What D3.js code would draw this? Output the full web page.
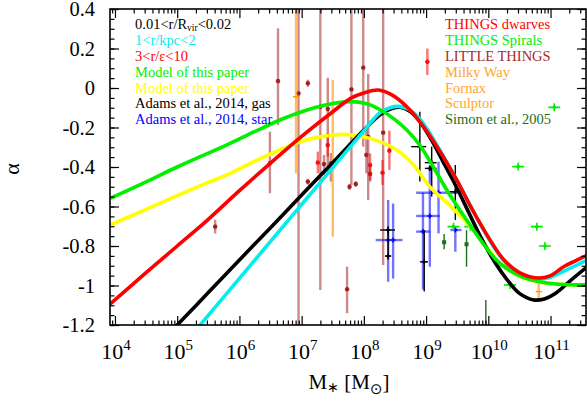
<!DOCTYPE html>
<html><head><meta charset="utf-8">
<script src="https://cdn.jsdelivr.net/npm/d3@7"></script>
<style>
body{margin:0;background:#fff}
svg{display:block}
text{font-family:"Liberation Serif","Times New Roman",serif}
</style>
</head><body>
<svg id="c" width="587" height="403"></svg>
<script>
// ---------- data (x values are log10 of M*/Msun) ----------
const xDomainLog = [3.92, 11.57];
const yDomain = [-1.2, 0.4];
const xTickExps = [4, 5, 6, 7, 8, 9, 10, 11];
const yTickValues = [0.4, 0.2, 0, -0.2, -0.4, -0.6, -0.8, -1, -1.2];
const yTickLabels = ["0.4", "0.2", "0", "-0.2", "-0.4", "-0.6", "-0.8", "-1", "-1.2"];

// model curves [log10 M*, alpha]
const curveBlack = [[4.6,-1.33],[5.0,-1.2],[5.5,-1.036],[6.0,-0.871],[6.5,-0.707],[7.0,-0.542],[7.5,-0.378],[8.0,-0.213],[8.26,-0.135],[8.45,-0.104],[8.6,-0.098],[8.75,-0.12],[8.9,-0.17],[9.1,-0.27],[9.3,-0.39],[9.47,-0.49],[9.7,-0.64],[9.87,-0.75],[10.1,-0.88],[10.3,-0.97],[10.5,-1.04],[10.73,-1.073],[10.9,-1.068],[11.1,-1.035],[11.32,-0.975],[11.59,-0.905]];
const curveCyan = [[5.0,-1.34],[5.37,-1.2],[5.5,-1.151],[6.0,-0.964],[6.5,-0.777],[7.0,-0.59],[7.5,-0.403],[8.0,-0.217],[8.26,-0.125],[8.42,-0.1],[8.56,-0.093],[8.7,-0.105],[8.85,-0.14],[9.0,-0.2],[9.25,-0.33],[9.5,-0.47],[9.75,-0.62],[10.0,-0.76],[10.25,-0.875],[10.5,-0.94],[10.8,-0.967],[11.0,-0.958],[11.2,-0.93],[11.4,-0.9],[11.59,-0.87]];
const curveRed = [[3.92,-1.094],[4.5,-0.935],[5.0,-0.80],[5.5,-0.665],[6.0,-0.52],[6.5,-0.38],[7.0,-0.245],[7.5,-0.12],[7.8,-0.05],[8.0,-0.025],[8.23,-0.01],[8.45,-0.035],[8.69,-0.095],[8.96,-0.196],[9.25,-0.335],[9.5,-0.47],[9.75,-0.62],[10.0,-0.755],[10.25,-0.87],[10.5,-0.935],[10.8,-0.962],[11.0,-0.95],[11.21,-0.905],[11.4,-0.875],[11.59,-0.846]];
const curveGreen = [[3.92,-0.559],[4.5,-0.475],[5.0,-0.40],[5.5,-0.33],[5.85,-0.28],[6.25,-0.22],[6.65,-0.162],[7.0,-0.12],[7.4,-0.085],[7.78,-0.069],[8.05,-0.08],[8.26,-0.11],[8.5,-0.16],[8.69,-0.213],[8.9,-0.29],[9.06,-0.37],[9.35,-0.525],[9.65,-0.668],[9.9,-0.78],[10.13,-0.871],[10.35,-0.925],[10.56,-0.958],[10.8,-0.98],[11.0,-0.99],[11.3,-0.996],[11.59,-0.997]];
const curveYellow = [[3.92,-0.694],[4.5,-0.615],[5.0,-0.545],[5.5,-0.478],[5.85,-0.432],[6.25,-0.37],[6.65,-0.314],[7.0,-0.27],[7.35,-0.245],[7.7,-0.235],[8.1,-0.255],[8.53,-0.314],[8.8,-0.39],[9.06,-0.5],[9.4,-0.6],[9.71,-0.70],[9.95,-0.795],[10.19,-0.888],[10.45,-0.945],[10.67,-0.972],[11.0,-0.99],[11.3,-0.996],[11.59,-0.998]];

// observations [log10 M*, alpha, alphaLow, alphaHigh]
const littleThings = [
  [5.61,-0.702,-0.737,-0.667],[6.49,-0.381,-0.533,-0.221],[6.62,0.035,-0.187,0.302],
  [6.95,-0.027,-1.35,0.5],[7.10,0.024,0.006,0.042],[7.10,-0.474,-0.49,-0.46],
  [7.30,-0.095,-1.023,0.5],[7.36,-0.385,-0.441,-0.339],[7.42,-0.106,-0.432,0.052],
  [7.47,-0.381,-0.474,-0.329],[7.73,-1.019,-1.14,-0.905],[7.77,-0.50,-0.515,-0.485],
  [7.80,-0.007,-0.491,0.5],[7.87,-0.486,-0.50,-0.472],[7.99,0.103,-0.297,0.5],
  [8.04,-0.339,-0.432,-0.196],[8.07,-0.247,-0.567,0.071],[8.10,-0.435,-0.474,-0.398],
  [8.31,-0.226,-0.896,0.5]
];
const thingsDwarves = [
  [7.26,-0.378,-0.432,-0.322],[7.42,-0.289,-0.348,-0.23],[8.10,-0.39,-0.466,-0.331],
  [8.30,-0.429,-0.491,-0.365],[8.41,-0.317,-0.415,-0.216],[9.02,0.133,0.066,0.2]
];
const milkyWay = [[10.81,-1.031,-1.073,-0.99]];
const fornax = [[7.50,-0.386,-0.753,0.04]];
const sculptor = [[6.91,-0.044,-0.432,0.5]];
const thingsSpirals = [[9.44,-0.702],[9.71,-0.702],[10.27,-0.901],[10.35,-0.997],[10.48,-0.398],[10.78,-0.702],[10.91,-0.8],[11.06,-0.098],[11.26,-1.22]];
const simon2005 = [[9.29,-0.781,-0.817,-0.739],[9.65,-0.791,-0.905,-0.72],[9.96,-1.3,-1.5,-1.073]];
// [log10 M*, alpha, alphaLow, alphaHigh, logMLow, logMHigh]
const adamsGas = [
  [8.39,-0.719,-0.74,-0.70,8.26,8.50],[8.39,-0.851,-0.87,-0.72,8.34,8.44],
  [8.90,-0.297,-0.474,-0.12,8.76,9.00],[9.09,-0.378,-0.55,-0.297,8.98,9.17],
  [9.06,-0.407,-0.42,-0.395,8.98,9.17],[9.47,-0.525,-0.668,-0.39,9.36,9.58],
  [8.97,-0.88,-1.03,-0.72,8.90,9.03]
];
const adamsStar = [
  [8.39,-0.77,-0.981,-0.567,8.19,8.62],[8.47,-0.77,-0.965,-0.585,8.47,8.47],
  [8.95,-0.727,-1.02,-0.53,8.84,9.06],[9.06,-0.648,-0.905,-0.39,8.84,9.22],
  [9.20,-0.53,-0.736,-0.373,8.84,9.60],[9.47,-0.719,-0.829,-0.702,9.39,9.57]
];

const legendLeft = ["0.01<r/R|vir|<0.02", "1<r/kpc<2", "3<r/ε<10", "Model of this paper", "Model of this paper", "Adams et al., 2014, gas", "Adams et al., 2014, star"];
const legendRight = ["THINGS dwarves", "THINGS Spirals", "LITTLE THINGS", "Milky Way", "Fornax", "Sculptor", "Simon et al., 2005"];

// ---------- styles ----------
const C = {
  black:"#000000", cyan:"#00eeee", red:"#ff0000", green:"#00f000", yellow:"#ffff00",
  blue:"#0000ff", spirals:"#00ee00", little:"#a52a2a", orange:"#ffa530", simon:"#1a6e1a"
};
const legendLeftColors = [C.black, C.cyan, C.red, C.green, C.yellow, C.black, C.blue];
const legendRightColors = [C.red, C.spirals, C.little, C.orange, C.orange, C.orange, C.simon];

const L = 110, R = 586, T = 9, B = 325;
const svg = d3.select("#c");

const x = d3.scaleLog().domain(xDomainLog.map(v => Math.pow(10, v))).range([L, R]);
const y = d3.scaleLinear().domain(yDomain).range([B, T]);
const X = v => x(Math.pow(10, v));

svg.append("defs").append("clipPath").attr("id", "clip")
  .append("rect").attr("x", L).attr("y", T).attr("width", R - L).attr("height", B - T);

const plot = svg.append("g").attr("clip-path", "url(#clip)");

// ---------- error-bar points ----------
function drawBars(data, barColor, barWidth, opacity, markerColor, marker, hx) {
  const g = plot.append("g");
  data.forEach(d => {
    const px = X(d[0]), py = y(d[1]);
    if (d.length >= 4) {
      g.append("line").attr("x1", px).attr("x2", px).attr("y1", y(d[2])).attr("y2", y(d[3]))
        .attr("stroke", barColor).attr("stroke-width", barWidth).attr("stroke-opacity", opacity);
    }
    if (d.length >= 6 && d[4] !== d[5]) {
      g.append("line").attr("x1", X(d[4])).attr("x2", X(d[5])).attr("y1", py).attr("y2", py)
        .attr("stroke", barColor).attr("stroke-width", barWidth).attr("stroke-opacity", opacity);
    }
    if (marker === "star") {
      g.append("path").attr("d", `M${px-2.2},${py}H${px+2.2}M${px},${py-2.2}V${py+2.2}M${px-1.6},${py-1.6}L${px+1.6},${py+1.6}M${px-1.6},${py+1.6}L${px+1.6},${py-1.6}`)
        .attr("stroke", markerColor).attr("stroke-width", 1.3);
    } else if (marker === "cross") {
      g.append("path").attr("d", `M${px-hx},${py}H${px+hx}M${px},${py-hx}V${py+hx}`)
        .attr("stroke", markerColor).attr("stroke-width", 1.5);
    } else if (marker === "square") {
      g.append("rect").attr("x", px-2).attr("y", py-2).attr("width", 4).attr("height", 4).attr("fill", markerColor);
    } else if (marker === "plus") {
      g.append("path").attr("d", `M${px-3},${py}H${px+3}`)
        .attr("stroke", markerColor).attr("stroke-width", 1.5);
    }
  });
}

drawBars(littleThings, C.little, 2.4, 0.55, "#a02020", "star");
drawBars(thingsDwarves, C.red, 2.4, 0.55, "#ee1111", "star");
drawBars(sculptor, C.orange, 2.4, 0.75, "#ff9a00", "plus");
drawBars(fornax, C.orange, 2.4, 0.75, "#ff9a00", "plus");
drawBars(milkyWay, C.orange, 2.4, 0.75, "#ff9a00", "plus");
drawBars(adamsStar, C.blue, 2.4, 0.55, C.blue, "cross", 2.5);
drawBars(adamsGas, C.black, 1.4, 1, C.black, "cross", 2.5);
drawBars(simon2005, C.simon, 1.4, 1, C.simon, "square");

// spirals: small crosses
{
  const g = plot.append("g");
  thingsSpirals.forEach(d => {
    const px = X(d[0]), py = y(d[1]);
    g.append("path").attr("d", `M${px-6},${py}H${px+6}M${px},${py-4}V${py+4}`)
      .attr("stroke", C.spirals).attr("stroke-width", 1.6);
    g.append("circle").attr("cx", px).attr("cy", py).attr("r", 1.8).attr("fill", C.spirals);
  });
}

// ---------- model curves ----------
const line = d3.line().x(d => X(d[0])).y(d => y(d[1])).curve(d3.curveCatmullRom.alpha(0.5));
[[curveYellow, C.yellow], [curveBlack, C.black], [curveCyan, C.cyan], [curveGreen, C.green], [curveRed, C.red]]
  .forEach(([data, col]) => {
    plot.append("path").datum(data).attr("d", line).attr("fill", "none")
      .attr("stroke", col).attr("stroke-width", 3.6).attr("stroke-linecap", "round");
  });

// ---------- axes ----------
const minorX = [];
for (let e = 3; e <= 11; e++) for (let m = 2; m <= 9; m++) {
  const v = m * Math.pow(10, e);
  if (v > x.domain()[0] && v < x.domain()[1]) minorX.push(v);
}
const majorX = xTickExps.map(e => Math.pow(10, e));
const minorY = d3.range(-1.2, 0.4001, 0.05).map(v => +v.toFixed(2));

function styleAxis(g) {
  g.select(".domain").remove();
  g.selectAll("line").attr("stroke", "#000").attr("stroke-width", 1.2);
}
svg.append("g").attr("transform", `translate(0,${B})`)
  .call(d3.axisBottom(x).tickValues(minorX).tickSize(-4.5).tickFormat("")).call(styleAxis);
svg.append("g").attr("transform", `translate(0,${B})`)
  .call(d3.axisBottom(x).tickValues(majorX).tickSize(-9).tickFormat("")).call(styleAxis);
svg.append("g").attr("transform", `translate(0,${T})`)
  .call(d3.axisTop(x).tickValues(minorX).tickSize(-4.5).tickFormat("")).call(styleAxis);
svg.append("g").attr("transform", `translate(0,${T})`)
  .call(d3.axisTop(x).tickValues(majorX).tickSize(-9).tickFormat("")).call(styleAxis);
svg.append("g").attr("transform", `translate(${L},0)`)
  .call(d3.axisLeft(y).tickValues(minorY).tickSize(-4.5).tickFormat("")).call(styleAxis);
svg.append("g").attr("transform", `translate(${L},0)`)
  .call(d3.axisLeft(y).tickValues(yTickValues).tickSize(-9).tickFormat("")).call(styleAxis);
svg.append("g").attr("transform", `translate(${R},0)`)
  .call(d3.axisRight(y).tickValues(minorY).tickSize(-4.5).tickFormat("")).call(styleAxis);
svg.append("g").attr("transform", `translate(${R},0)`)
  .call(d3.axisRight(y).tickValues(yTickValues).tickSize(-9).tickFormat("")).call(styleAxis);

svg.append("rect").attr("x", L).attr("y", T).attr("width", R - L).attr("height", B - T)
  .attr("fill", "none").attr("stroke", "#000").attr("stroke-width", 1.6);

// y tick labels
yTickValues.forEach((v, i) => {
  svg.append("text").attr("x", 95).attr("y", y(v) + 7.2).attr("text-anchor", "end")
    .attr("font-size", 20.5).attr("fill", "#000").text(yTickLabels[i]);
});
// x tick labels 10^n
xTickExps.forEach(e => {
  const t = svg.append("text").attr("x", x(Math.pow(10, e)) + 1).attr("y", 359)
    .attr("text-anchor", "middle").attr("font-size", 22).attr("fill", "#000");
  t.append("tspan").text("10");
  t.append("tspan").attr("font-size", 15).attr("dy", -9).text(String(e));
});

// axis titles
{
  const t = svg.append("text").attr("x", 349).attr("y", 389).attr("text-anchor", "middle")
    .attr("font-size", 21).attr("fill", "#000");
  t.append("tspan").text("M");
  t.append("tspan").attr("font-size", 14).attr("dy", 3).text("∗");
  t.append("tspan").attr("dy", -3).text(" [M");
  t.append("tspan").attr("font-size", 15).attr("dy", 5).attr("font-family", "DejaVu Sans").text("⊙");
  t.append("tspan").attr("dy", -5).text("]");
}
svg.append("text").attr("transform", "translate(19,169) rotate(-90)").attr("text-anchor", "middle")
  .attr("font-size", 22).attr("fill", "#000").text("α");

// legends
const legBase = [29, 45, 61, 77, 92.7, 108.4, 124];
legendLeft.forEach((s, i) => {
  const t = svg.append("text").attr("x", 135).attr("y", legBase[i]).attr("font-size", 14.5)
    .attr("fill", legendLeftColors[i]);
  const parts = s.split("|");
  if (parts.length === 3) {
    t.append("tspan").text(parts[0]);
    t.append("tspan").attr("font-size", 9.5).attr("dy", 2).text(parts[1]);
    t.append("tspan").attr("dy", -2).text(parts[2]);
  } else t.text(s);
});
legendRight.forEach((s, i) => {
  svg.append("text").attr("x", 445).attr("y", legBase[i]).attr("font-size", 14.5)
    .attr("fill", legendRightColors[i]).text(s);
});
</script>
</body></html>
